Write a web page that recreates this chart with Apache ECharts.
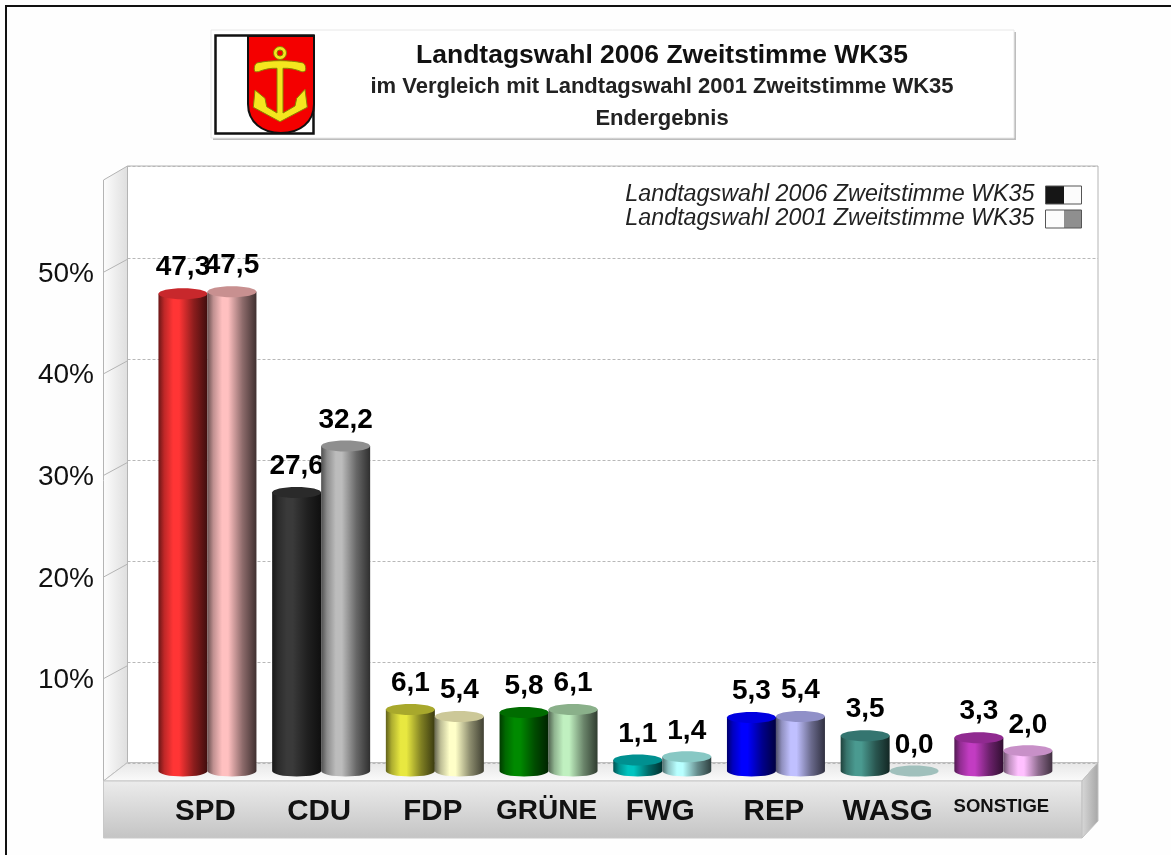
<!DOCTYPE html>
<html>
<head>
<meta charset="utf-8">
<title>Landtagswahl 2006 Zweitstimme WK35</title>
<script src="https://cdn.jsdelivr.net/npm/echarts@6/dist/echarts.min.js"></script>
<style>
  html, body { margin: 0; padding: 0; background: #fefefe; }
  #main { width: 1171px; height: 855px; }
</style>
</head>
<body>
<div id="main"></div>
<script>
  var FONT = '"Liberation Sans", Arial, sans-serif';

  var parties = ['SPD', 'CDU', 'FDP', 'GRÜNE', 'FWG', 'REP', 'WASG', 'SONSTIGE'];
  var name2006 = 'Landtagswahl 2006 Zweitstimme WK35';
  var name2001 = 'Landtagswahl 2001 Zweitstimme WK35';
  var values2006 = [47.3, 27.6, 6.1, 5.8, 1.1, 5.3, 3.5, 3.3];
  var values2001 = [47.5, 32.2, 5.4, 6.1, 1.4, 5.4, 0.0, 2.0];
  var percentTicks = [10, 20, 30, 40, 50];

  // body colour / colour of the top ellipse
  var body2006 = ['#ff3535', '#3a3a3a', '#e8e840', '#008a00', '#00c4c0', '#0000ff', '#4a9a90', '#c23cc2'];
  var top2006 = ['#c8282c', '#2a2a2a', '#a8a82c', '#006c00', '#009090', '#0000e0', '#357570', '#902a90'];
  var body2001 = ['#ffc0c0', '#bcbcbc', '#ffffc8', '#c0f0c0', '#b8ffff', '#c0c0ff', '#a0c0bc', '#ffc0ff'];
  var top2001 = ['#c89090', '#8f8f8f', '#ccc898', '#8ab08a', '#88c8c4', '#9090c8', '#a0c0bc', '#c890c8'];

  function shade(hex, f) {
    var n = parseInt(hex.slice(1), 16);
    var r = Math.round((n >> 16) * f), g = Math.round(((n >> 8) & 255) * f), b = Math.round((n & 255) * f);
    return 'rgb(' + r + ',' + g + ',' + b + ')';
  }

  function cylinder(values, bodies, tops, side) {
    return function (params, api) {
      var i = api.value(0);
      var v = api.value(1);
      var w = 49, ry = 5.5;
      var cx = api.coord([i, 0])[0] + side * w / 2;
      var yBase = api.coord([i, 0])[1];
      var yTop = api.coord([i, v])[1];
      var x0 = cx - w / 2;
      var children = [];
      if (v > 0) {
        children.push({
          type: 'path',
          shape: {
            pathData: 'M' + x0 + ' ' + yTop + 'L' + x0 + ' ' + yBase +
              'A' + (w / 2) + ' ' + ry + ' 0 0 0 ' + (x0 + w) + ' ' + yBase +
              'L' + (x0 + w) + ' ' + yTop + 'Z'
          },
          style: {
            fill: new echarts.graphic.LinearGradient(0, 0, 1, 0, [
              { offset: 0, color: shade(bodies[i], 0.42) },
              { offset: 0.12, color: shade(bodies[i], 0.75) },
              { offset: 0.3, color: bodies[i] },
              { offset: 0.42, color: bodies[i] },
              { offset: 0.72, color: shade(bodies[i], 0.55) },
              { offset: 1, color: shade(bodies[i], 0.25) }
            ])
          }
        });
      }
      children.push({
        type: 'ellipse',
        shape: { cx: cx, cy: yTop, rx: w / 2, ry: ry },
        style: { fill: tops[i] }
      });
      children.push({
        type: 'text',
        z2: 50,
        style: {
          x: cx,
          y: yTop - 26,
          text: values[i].toFixed(1).replace('.', ','),
          align: 'center',
          verticalAlign: 'middle',
          fill: '#000',
          font: 'bold 28px ' + FONT
        }
      });
      return { type: 'group', children: children };
    };
  }

  function toPoints(values) {
    return values.map(function (v, i) { return [i, v]; });
  }

  // the little diagonal lines on the side wall, one for each tick
  function wallTick(params, api) {
    var p = api.coord([0, api.value(0)]);
    return {
      type: 'line',
      shape: { x1: p[0], y1: p[1] - 2, x2: p[0] + 24, y2: p[1] - 15 },
      style: { stroke: '#b4b4b4', lineWidth: 1 }
    };
  }

  // the graphic component has no plain 'path' type, so the crest shapes get registered
  echarts.graphic.registerShape('shieldShape', echarts.graphic.extendPath(
    'M248 36L314 36L314 104C314 122 300 133 281 133C262 133 248 122 248 104Z'));
  echarts.graphic.registerShape('anchorShape', echarts.graphic.extendPath(
    'M254.3 70C254 65 256 63 258 62.7C270 60 290 60 302 62.7C304 63 306 65 305.7 70C305 72 303 72 301.7 71.7C295 69 289 68 283 68.3L283 113L295 106L296.7 98.3L305 89.3L307.3 107.3L280 121.7L253.3 107.3L255 90L265 98.3L266.7 106.7L277 113L277 68.3C271 68 265 69 258.3 71.7C256 72 254.5 72 254.3 70Z'));

  var graphics = [
    // page frame
    { type: 'polyline', z: -20, shape: { points: [[1171, 6], [6, 6], [6, 855]] }, style: { stroke: '#111', lineWidth: 2, fill: null } },

    // title box
    { type: 'rect', z: -20, shape: { x: 213, y: 32, width: 803, height: 108 }, style: { fill: '#bdbdbd' } },
    { type: 'rect', z: -19, shape: { x: 211, y: 30, width: 803, height: 108 }, style: { fill: '#fff', stroke: '#e8e8e8', lineWidth: 1 } },

    // coat of arms
    { type: 'rect', z: -18, shape: { x: 215.5, y: 35.5, width: 98, height: 98 }, style: { fill: '#fff', stroke: '#111', lineWidth: 2.5 } },
    { type: 'shieldShape', z: -17, style: { fill: '#f40000', stroke: '#111', lineWidth: 2 } },
    { type: 'anchorShape', z: -16, style: { fill: '#f5e61e', stroke: '#8a8200', lineWidth: 1 } },
    { type: 'ring', z: -16, shape: { cx: 280, cy: 53, r: 6.5, r0: 3 }, style: { fill: '#f5e61e', stroke: '#8a8200', lineWidth: 1 } },

    // walls, floor and plinth
    { type: 'polygon', z: -15, shape: { points: [[127.5, 166], [1098, 166], [1098, 762.5], [127.5, 762.5]] }, style: { fill: '#fff', stroke: '#b4b4b4', lineWidth: 1 } },
    {
      type: 'polygon', z: -14, shape: { points: [[103.5, 180], [127.5, 166], [127.5, 762.5], [103.5, 781]] },
      style: { stroke: '#b4b4b4', lineWidth: 1, fill: new echarts.graphic.LinearGradient(0, 0, 1, 0, [{ offset: 0, color: '#fdfdfd' }, { offset: 1, color: '#dedede' }]) }
    },
    {
      type: 'polygon', z: -14, shape: { points: [[127.5, 762.5], [1098, 762.5], [1082, 781], [103.5, 781]] },
      style: { stroke: '#c0c0c0', lineWidth: 1, fill: new echarts.graphic.LinearGradient(0, 0, 0, 1, [{ offset: 0, color: '#e6e6e6' }, { offset: 1, color: '#fbfbfb' }]) }
    },
    {
      type: 'rect', z: -14, shape: { x: 103.5, y: 781, width: 978.5, height: 57 },
      style: { stroke: '#c8c8c8', lineWidth: 1, fill: new echarts.graphic.LinearGradient(0, 0, 0, 1, [{ offset: 0, color: '#ececec' }, { offset: 1, color: '#c4c4c4' }]) }
    },
    {
      type: 'polygon', z: -14, shape: { points: [[1082, 781], [1098, 762.5], [1098, 821], [1082, 838]] },
      style: { stroke: '#c0c0c0', lineWidth: 1, fill: new echarts.graphic.LinearGradient(0, 0, 1, 0, [{ offset: 0, color: '#d8d8d8' }, { offset: 1, color: '#a6a6a6' }]) }
    }
  ];

  var chart = echarts.init(document.getElementById('main'), null, { renderer: 'canvas' });

  chart.setOption({
    animation: false,
    backgroundColor: '#fefefe',
    textStyle: { fontFamily: FONT },
    title: {
      left: 657,
      top: 37,
      textAlign: 'center',
      text: name2006,
      textStyle: { fontFamily: FONT, fontSize: 26.5, fontWeight: 'bold', color: '#111' },
      subtext: 'im Vergleich mit ' + name2001 + '\nEndergebnis',
      subtextStyle: { fontFamily: FONT, fontSize: 22, fontWeight: 'bold', color: '#222', lineHeight: 31.5 },
      itemGap: 2.5
    },
    legend: {
      orient: 'vertical',
      align: 'right',
      right: 84,
      top: 178,
      itemWidth: 36,
      itemHeight: 18,
      itemGap: 0,
      selectedMode: false,
      textStyle: { fontFamily: FONT, fontSize: 23.3, fontStyle: 'italic', color: '#222', padding: [0, 6, 0, 0], lineHeight: 24 },
      data: [
        {
          name: name2006, icon: 'rect',
          itemStyle: { borderColor: '#555', borderWidth: 1, color: new echarts.graphic.LinearGradient(0, 0, 1, 0, [{ offset: 0, color: '#161616' }, { offset: 0.5, color: '#161616' }, { offset: 0.5, color: '#fcfcfc' }, { offset: 1, color: '#fcfcfc' }]) }
        },
        {
          name: name2001, icon: 'rect',
          itemStyle: { borderColor: '#555', borderWidth: 1, color: new echarts.graphic.LinearGradient(0, 0, 1, 0, [{ offset: 0, color: '#fcfcfc' }, { offset: 0.5, color: '#fcfcfc' }, { offset: 0.5, color: '#8f8f8f' }, { offset: 1, color: '#8f8f8f' }]) }
        }
      ]
    },
    grid: [
      // back wall, carries the dashed lines
      { left: 127.5, width: 970.5, top: 166, height: 597 },
      // bars
      { left: 150.6, width: 909.6, top: 173.7, height: 597.3 },
      // front edge of the side wall, carries the % labels
      { left: 104, width: 24, top: 181, height: 601 }
    ],
    xAxis: [
      { gridIndex: 0, type: 'value', min: 0, max: 1, show: false },
      {
        gridIndex: 1,
        type: 'category',
        data: parties.map(function (p) {
          return p === 'SONSTIGE' ? { value: p, textStyle: { fontSize: 18.5 } } : p === 'GRÜNE' ? { value: p, textStyle: { fontSize: 28 } } : p;
        }),
        axisLine: { show: false },
        axisTick: { show: false },
        axisLabel: { interval: 0, margin: 26, padding: [0, 4, 0, 0], fontFamily: FONT, fontSize: 29.5, fontWeight: 'bold', color: '#111' }
      },
      { gridIndex: 2, type: 'value', min: 0, max: 1, show: false }
    ],
    yAxis: [
      {
        gridIndex: 0, type: 'value', min: 0, max: 59.17, interval: 10,
        axisLine: { show: false }, axisTick: { show: false }, axisLabel: { show: false },
        splitLine: { show: true, lineStyle: { color: '#b8b8b8', type: [3, 2], width: 1 } }
      },
      { gridIndex: 1, type: 'value', min: 0, max: 59.2, show: false, splitLine: { show: false } },
      {
        gridIndex: 2, type: 'value', min: 0, max: 59.15, interval: 10,
        axisLine: { show: false }, axisTick: { show: false }, splitLine: { show: false },
        axisLabel: {
          margin: 10, fontFamily: FONT, fontSize: 28, color: '#111',
          customValues: percentTicks,
          formatter: '{value}%'
        }
      }
    ],
    series: [
      {
        name: 'wall ticks',
        type: 'custom',
        xAxisIndex: 2,
        yAxisIndex: 2,
        silent: true,
        clip: false,
        renderItem: wallTick,
        encode: { y: 0 },
        data: percentTicks.map(function (t) { return [t]; })
      },
      {
        name: name2006,
        type: 'custom',
        xAxisIndex: 1,
        yAxisIndex: 1,
        clip: false,
        z: 5,
        renderItem: cylinder(values2006, body2006, top2006, -1),
        encode: { x: 0, y: 1 },
        data: toPoints(values2006)
      },
      {
        name: name2001,
        type: 'custom',
        xAxisIndex: 1,
        yAxisIndex: 1,
        clip: false,
        z: 6,
        renderItem: cylinder(values2001, body2001, top2001, 1),
        encode: { x: 0, y: 1 },
        data: toPoints(values2001)
      }
    ],
    graphic: graphics
  });
</script>
</body>
</html>
